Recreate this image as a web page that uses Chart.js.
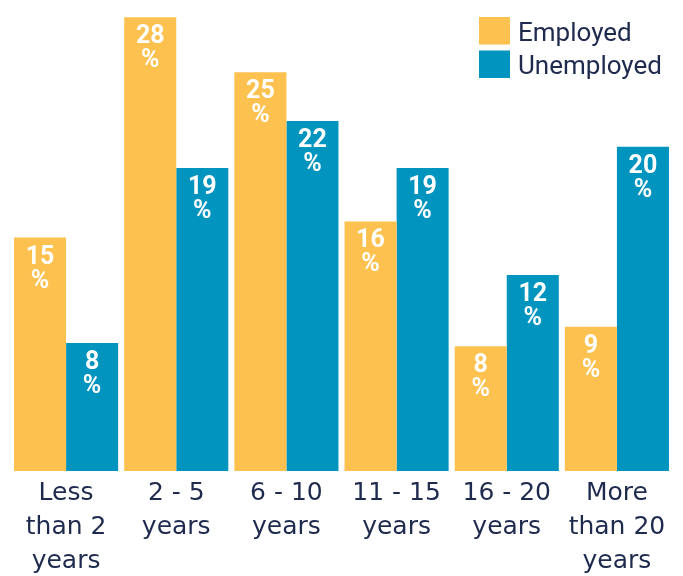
<!DOCTYPE html>
<html>
<head>
<meta charset="utf-8">
<script src="https://cdn.jsdelivr.net/npm/chart.js@4.4.1/dist/chart.umd.min.js"></script>
<style>
  body { margin: 0; background: #fff; font-family: Roboto; }
  #wrap { width: 683px; height: 576px; }
  .preload { position: absolute; left: -9999px; top: 0; font-family: Roboto; }
</style>
</head>
<body>
<span class="preload">Employed <b>28 %</b></span>
<div id="wrap"><canvas id="barChart" width="683" height="576"></canvas></div>
<script>
const categories = [
    ["Less", "than 2", "years"],
    ["2 - 5", "years"],
    ["6 - 10", "years"],
    ["11 - 15", "years"],
    ["16 - 20", "years"],
    ["More", "than 20", "years"]
];
// bar heights as measured, printed labels as shown
const employedValues = [14.4, 28, 24.6, 15.4, 7.7, 8.9];
const unemployedValues = [7.9, 18.7, 21.6, 18.7, 12.1, 20];
const employedLabels = [15, 28, 25, 16, 8, 9];
const unemployedLabels = [8, 19, 22, 19, 12, 20];

const YELLOW = "#FCC14F";
const BLUE = "#0094BF";
const NAVY = "#1F2B4E";

// white "NN / %" text at the top of each bar
const barLabels = {
    id: "barLabels",
    afterDatasetsDraw(chart) {
        const ctx = chart.ctx;
        ctx.save();
        ctx.fillStyle = "#fff";
        ctx.font = "normal bold 25px Roboto";
        ctx.textAlign = "center";
        ctx.textBaseline = "alphabetic";
        chart.data.datasets.forEach((ds, i) => {
            chart.getDatasetMeta(i).data.forEach((bar, j) => {
                ctx.fillText(String(ds.valueLabels[j]), bar.x, bar.y + 26);
                ctx.fillText("%", bar.x, bar.y + 50);
            });
        });
        ctx.restore();
    }
};

// legend in the top right corner
const cornerLegend = {
    id: "cornerLegend",
    afterDraw(chart) {
        const ctx = chart.ctx;
        ctx.save();
        ctx.font = "normal 26px Roboto";
        ctx.textAlign = "left";
        ctx.textBaseline = "alphabetic";
        chart.data.datasets.forEach((ds, i) => {
            const top = 17 + i * 33.5;
            ctx.fillStyle = ds.backgroundColor;
            ctx.fillRect(479, top, 31, 27.5);
            ctx.fillStyle = NAVY;
            ctx.fillText(ds.label, 518, top + 23.5);
        });
        ctx.restore();
    }
};

Chart.defaults.font.family = "Roboto";

const CHART = document.getElementById("barChart");

let barChart = new Chart(CHART, {
    type: 'bar',
    data: {
        labels: categories,
        datasets: [
            {
                label: "Employed",
                data: employedValues,
                valueLabels: employedLabels,
                backgroundColor: YELLOW,
                barPercentage: 1.0,
                categoryPercentage: 0.945
            },
            {
                label: "Unemployed",
                data: unemployedValues,
                valueLabels: unemployedLabels,
                backgroundColor: BLUE,
                barPercentage: 1.0,
                categoryPercentage: 0.945
            }
        ]
    },
    options: {
        responsive: false,
        animation: false,
        layout: { padding: { top: 1, left: 11, right: 11, bottom: 0 } },
        plugins: {
            legend: { display: false },
            tooltip: { enabled: false }
        },
        scales: {
            x: {
                grid: { display: false, drawTicks: false },
                border: { display: false },
                afterFit(scale) { scale.height = 105; },
                ticks: {
                    color: NAVY,
                    padding: 5,
                    maxRotation: 0,
                    autoSkip: false,
                    font: { family: "DejaVu Sans", size: 25, lineHeight: 1.36 }
                }
            },
            y: {
                display: false,
                min: 0,
                max: 29
            }
        }
    },
    plugins: [barLabels, cornerLegend]
});
</script>
</body>
</html>
